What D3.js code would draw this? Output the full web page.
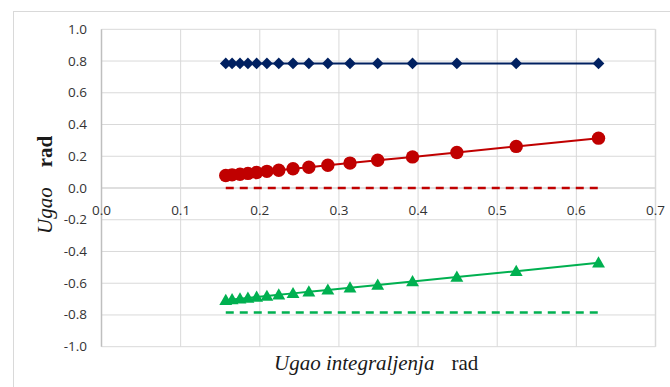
<!DOCTYPE html>
<html>
<head>
<meta charset="utf-8">
<script src="https://cdn.jsdelivr.net/npm/d3@7"></script>
<style>
  body { margin: 0; background: #fff; }
  .tick { font-family: "Open Sans", sans-serif; }
  .title { font-family: "Liberation Serif", serif; }
</style>
</head>
<body>
<svg></svg>
<script>
// integration angle (rad)
let xValues = [0.157, 0.165, 0.175, 0.185, 0.196, 0.209, 0.224, 0.242,
               0.262, 0.286, 0.314, 0.349, 0.393, 0.449, 0.524, 0.628];
let blueValues = [0.785, 0.785, 0.785, 0.785, 0.785, 0.785, 0.785, 0.785,
                  0.785, 0.785, 0.785, 0.785, 0.785, 0.785, 0.785, 0.785];
let redValues = [0.079, 0.083, 0.087, 0.092, 0.098, 0.105, 0.112, 0.121,
                 0.131, 0.143, 0.157, 0.175, 0.196, 0.224, 0.262, 0.314];
let greenValues = [-0.707, -0.702, -0.698, -0.693, -0.687, -0.681, -0.673, -0.664,
                   -0.654, -0.642, -0.628, -0.611, -0.589, -0.561, -0.524, -0.471];
let redDashed = [0, 0];
let greenDashed = [-0.785, -0.785];
let dashedX = [0.157, 0.628];
let xTicks = [0, 0.1, 0.2, 0.3, 0.4, 0.5, 0.6, 0.7];
let yTicks = [-1, -0.8, -0.6, -0.4, -0.2, 0, 0.2, 0.4, 0.6, 0.8, 1];

let svg = d3.select("svg").attr("width", 670).attr("height", 387);

// chart frame
svg.append("rect")
  .attr("x", 13.5).attr("y", 11.5)
  .attr("width", 700).attr("height", 400)
  .attr("fill", "none").attr("stroke", "#d9d9d9");

let x = d3.scaleLinear().domain([0, 0.7]).range([101.5, 655.5]);
let y = d3.scaleLinear().domain([-1, 1]).range([346.7, 29.3]);
let fmt = d => d3.format(".1f")(d).replace("\u2212", "-");

// gridlines
svg.append("g")
  .selectAll("line")
  .data(yTicks)
  .enter().append("line")
  .attr("x1", x(0)).attr("x2", x(0.7))
  .attr("y1", d => y(d)).attr("y2", d => y(d))
  .attr("stroke", d => d === 0 ? "#bfbfbf" : "#d9d9d9")
  .attr("stroke-width", d => d === 0 ? 1.2 : 1);

svg.append("g")
  .selectAll("line")
  .data(xTicks)
  .enter().append("line")
  .attr("x1", d => x(d)).attr("x2", d => x(d))
  .attr("y1", y(1)).attr("y2", y(-1))
  .attr("stroke", d => d === 0 ? "#bfbfbf" : "#d9d9d9")
  .attr("stroke-width", d => (d === 0 || d === 0.7) ? 1.5 : 1);

// tick labels
svg.append("g")
  .selectAll("text")
  .data(yTicks)
  .enter().append("text")
  .attr("class", "tick")
  .attr("x", 87).attr("y", d => y(d) + 4.5)
  .attr("text-anchor", "end")
  .attr("font-size", 13.5).attr("fill", "#333")
  .text(fmt);

svg.append("g")
  .selectAll("text")
  .data(xTicks)
  .enter().append("text")
  .attr("class", "tick")
  .attr("x", d => x(d)).attr("y", y(0) + 27)
  .attr("text-anchor", "middle")
  .attr("font-size", 13.5).attr("fill", "#333")
  .text(fmt);

// series
let line = d3.line().x(d => x(d[0])).y(d => y(d[1]));

function series(vals, xs, color, dashed) {
  svg.append("path")
    .datum(xs.map((v, i) => [v, vals[i]]))
    .attr("d", line)
    .attr("fill", "none")
    .attr("stroke", color)
    .attr("stroke-width", dashed ? 2.5 : 2)
    .attr("stroke-dasharray", dashed ? "8,6" : null);
}

series(redDashed, dashedX, "#c00000", true);
series(greenDashed, dashedX, "#00b050", true);
series(blueValues, xValues, "#002060", false);
series(redValues, xValues, "#c00000", false);
series(greenValues, xValues, "#00b050", false);

svg.append("g").selectAll("path")
  .data(xValues.map((v, i) => [v, blueValues[i]]))
  .enter().append("path")
  .attr("d", d3.symbol(d3.symbolSquare, 68))
  .attr("transform", d => `translate(${x(d[0])},${y(d[1])}) rotate(45)`)
  .attr("fill", "#002060");

svg.append("g").selectAll("circle")
  .data(xValues.map((v, i) => [v, redValues[i]]))
  .enter().append("circle")
  .attr("cx", d => x(d[0])).attr("cy", d => y(d[1]))
  .attr("r", 6.7)
  .attr("fill", "#c00000");

svg.append("g").selectAll("path")
  .data(xValues.map((v, i) => [v, greenValues[i]]))
  .enter().append("path")
  .attr("d", d3.symbol(d3.symbolTriangle, 72))
  .attr("transform", d => `translate(${x(d[0])},${y(d[1]) + 1})`)
  .attr("fill", "#00b050");

// axis titles
let xt = svg.append("text")
  .attr("class", "title")
  .attr("x", 274).attr("y", 370)
  .attr("font-size", 21)
  .attr("fill", "#1a1a1a");
xt.append("tspan").attr("font-style", "italic").text("Ugao integraljenja");
xt.append("tspan").attr("dx", 17).text("rad");

let yt = svg.append("text")
  .attr("class", "title")
  .attr("transform", "translate(52,234) rotate(-90)")
  .attr("font-size", 21)
  .attr("fill", "#1a1a1a");
yt.append("tspan").attr("font-style", "italic").text("Ugao");
yt.append("tspan").attr("dx", 20).attr("font-weight", "bold").text("rad");
</script>
</body>
</html>
